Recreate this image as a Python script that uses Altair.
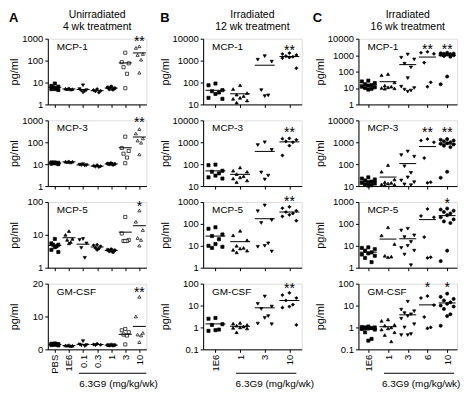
import altair as alt
import pandas as pd

# ---------------- categories ----------------
A_GROUPS = ["PBS", "1E6", "0.1", "0.3", "1", "3", "10"]
B_GROUPS = ["1E6", "1", "3", "10"]
C_GROUPS = ["1E6", "1", "3", "6", "10"]

# ---------------- A: Unirradiated, 4 wk ----------------
A_MCP1 = {"PBS": [9, 7, 6, 5.5, 5, 5, 4.5, 6.5], "1E6": [5.5, 5, 5, 5.2, 4.8],
          "0.1": [7.5, 4.5, 4, 3.5, 4.2, 5], "0.3": [4.5, 4, 3.5, 4.2, 5],
          "1": [5.5, 6, 4.8, 5, 6.5], "3": [230, 85, 75, 50, 25, 5.5],
          "10": [450, 380, 200, 180, 110, 28]}
A_MCP3 = {"PBS": [12, 11.5, 11, 11, 10.5, 10, 11.5, 12], "1E6": [13.5, 13, 12.5, 12, 13],
          "0.1": [9.5, 9, 8.5, 10, 9], "0.3": [8, 9, 7.5, 8.5, 7.8],
          "1": [10, 11, 9.5, 10.5, 10.2], "3": [180, 55, 40, 30, 20, 11],
          "10": [400, 250, 150, 120, 95, 28]}
A_MCP5 = {"PBS": [7.5, 5.5, 5, 4.5, 4.2, 3.5, 3, 5], "1E6": [13, 10, 7.5, 7, 6, 5.5],
          "0.1": [7.5, 7, 5.5, 4, 2], "0.3": [5, 4.5, 4, 3.8, 3.5, 4.8],
          "1": [3.5, 3.2, 3.4, 3, 3.6], "3": [35, 11, 7, 6.5, 6.5, 6.5],
          "10": [55, 25, 14, 8, 7, 4.7]}
A_GMCSF = {"PBS": [1.8, 1.5, 1.4, 1.6, 1.2, 1.7, 1.5, 1.3], "1E6": [1.1, 1.2, 1.0, 1.3, 1.1],
           "0.1": [2.5, 1.2, 1.0, 1.5, 1.3], "0.3": [1.5, 1.7, 1.3, 1.4],
           "1": [1.3, 1.2, 1.4, 1.2, 1.3], "3": [6.2, 5.8, 5.2, 4.5, 4.2, 1.5],
           "10": [16, 10, 5, 4.5, 4.2, 2.2]}

# ---------------- B: Irradiated, 12 wk ----------------
B_MCP1 = {"1E6": [90, 75, 45, 40, 35, 30, 20, 18],
          "1": [75, 50, 33, 28, 24, 20, 18, 15, 12],
          "3": [1600, 1100, 900, 45, 26, 24],
          "10": [2200, 2000, 1800, 1600, 1500, 1400, 1300, 450]}
B_MCP3 = {"1E6": [95, 90, 50, 45, 38, 30, 25, 22],
          "1": [70, 50, 45, 35, 28, 25, 22, 18, 15],
          "3": [1000, 750, 450, 42, 30, 20],
          "10": [1500, 1450, 1300, 1100, 1000, 700, 250]}
B_MCP5 = {"1E6": [70, 60, 33, 28, 20, 12, 10, 9, 8],
          "1": [48, 30, 18, 10, 8, 7.5, 6.5, 6, 5],
          "3": [700, 380, 150, 110, 13, 10, 9, 5.5],
          "10": [600, 520, 400, 350, 300, 260, 220, 140]}
B_GMCSF = {"1E6": [2.7, 2.5, 1.4, 1.3, 0.8, 0.75, 0.7],
           "1": [1.6, 1.5, 1.3, 1.2, 1.1, 1.0, 0.95, 0.9, 0.6],
           "3": [26, 12, 9, 7, 3.3, 2.7, 1.5, 1.4],
           "10": [38, 30, 22, 17, 11, 9, 8, 1.3]}

# ---------------- C: Irradiated, 16 wk ----------------
C_MCP1 = {"1E6": [28, 25, 20, 17, 15, 14, 12, 11, 10, 9, 8],
          "1": [70, 60, 22, 14, 12, 11, 10, 9.5, 9],
          "3": [1100, 700, 550, 300, 180, 40, 12, 10, 8, 7, 6],
          "6": [1600, 1400, 1200, 350, 22, 12],
          "10": [1400, 1300, 1250, 1200, 1150, 1100, 1050, 1000, 900, 800, 50, 17]}
C_MCP3 = {"1E6": [25, 22, 20, 18, 16, 15, 14, 13, 12, 11, 10.5],
          "1": [90, 45, 20, 15, 14, 13, 12, 11.5, 11],
          "3": [380, 260, 220, 80, 40, 25, 18, 15, 12, 11],
          "6": [1400, 1200, 1000, 190, 15, 14],
          "10": [1400, 1300, 1200, 1100, 1000, 900, 850, 800, 700, 600, 45, 24]}
C_MCP5 = {"1E6": [8.5, 8, 7, 6, 5, 4.5, 4, 3.5, 2.8, 1.8],
          "1": [70, 30, 12, 3.5, 3.2, 3.0],
          "3": [60, 50, 30, 25, 15, 10, 8, 6, 4, 1.3],
          "6": [480, 230, 200, 25, 3, 2.8],
          "10": [500, 450, 400, 350, 300, 250, 200, 160, 130, 110, 6, 2]}
C_GMCSF = {"1E6": [1.1, 1.05, 1.0, 1.0, 0.95, 0.9, 0.85, 0.8, 0.6, 0.3, 0.25],
           "1": [2.3, 2.0, 1.3, 1.2, 1.0, 0.9, 0.8, 0.6, 0.45, 0.23],
           "3": [15, 6.5, 5.5, 4.5, 4, 3.3, 2.5, 1.4, 1.0, 0.5, 0.45, 0.45],
           "6": [27, 22, 10.5, 3, 1.0, 0.9],
           "10": [35, 25, 20, 17, 14, 12, 10, 9, 7, 4, 3.3, 1.2]}

# significance marks: (group, text, level)
A_STARS = [[("10", "**", 1000)], [("10", "**", 1000)], [("10", "*", 85)], [("10", "**", 18)]]
B_STARS = [[("10", "**", 3600)], [("10", "**", 3800)], [("10", "**", 1300)], [("10", "**", 80)]]
C_STARS = [[("6", "**", 3200), ("10", "**", 3200)], [("6", "**", 3800), ("10", "**", 3800)],
           [("10", "*", 1100)], [("6", "*", 90), ("10", "*", 90)]]

CYTOKINES = ["MCP-1", "MCP-3", "MCP-5", "GM-CSF"]
COL_TITLES = [["Unirradiated", "4 wk treatment"], ["Irradiated", "12 wk treatment"],
              ["Irradiated", "16 wk treatment"]]
LETTERS = ["A", "B", "C"]
XTITLE = "6.3G9 (mg/kg/wk)"

# ---------------- styles ----------------
W, H = 99, 66
FONT = "Liberation Sans"
SPREAD = [0, -1, 1, -0.5, 0.5]
ONE = pd.DataFrame({"k": [0]})

COLS = [
    dict(groups=A_GROUPS, data=[A_MCP1, A_MCP3, A_MCP5, A_GMCSF], stars=A_STARS,
         shapes=["square", "triangle-up", "triangle-down", "diamond", "circle", "square", "triangle-up"],
         fills=["black"] * 5 + ["white"] * 2,
         ytype=["log", "log", "log", "linear"],
         ydom=[[1, 1000], [1, 1000], [1, 100], [0, 20]],
         yticks=[[1, 10, 100, 1000], [1, 10, 100, 1000], [1, 10, 100], [0, 10, 20]],
         jit=3.5, tickw=13, extent=26, letter_x=-39, bracket=("0.1", "10"), xt_x=71),
    dict(groups=B_GROUPS, data=[B_MCP1, B_MCP3, B_MCP5, B_GMCSF], stars=B_STARS,
         shapes=["square", "triangle-up", "triangle-down", "diamond"],
         fills=["black"] * 4,
         ytype=["log", "log", "log", "log"],
         ydom=[[10, 10000], [10, 10000], [1, 1000], [0.1, 100]],
         yticks=[[10, 100, 1000, 10000], [10, 100, 1000, 10000], [1, 10, 100, 1000], [0.1, 1, 10, 100]],
         jit=7, tickw=20, extent=31, letter_x=-43, bracket=("1", "10"), xt_x=72),
    dict(groups=C_GROUPS, data=[C_MCP1, C_MCP3, C_MCP5, C_GMCSF], stars=C_STARS,
         shapes=["square", "triangle-up", "triangle-down", "diamond", "circle"],
         fills=["black"] * 5,
         ytype=["log", "log", "log", "log"],
         ydom=[[1, 10000], [10, 10000], [1, 1000], [0.1, 100]],
         yticks=[[1, 10, 100, 1000, 10000], [10, 100, 1000, 10000], [1, 10, 100, 1000], [0.1, 1, 10, 100]],
         jit=6.5, tickw=17, extent=31, letter_x=-46, bracket=("1", "10"), xt_x=63),
]


def make_panel(c, ci, r):
    groups = c["groups"]
    values = c["data"][r]
    recs = []
    for g in groups:
        for i, v in enumerate(sorted(values[g], reverse=True)):
            recs.append({"group": g, "value": v, "spread": SPREAD[i % len(SPREAD)]})
    df = pd.DataFrame(recs)
    sdf = pd.DataFrame([{"group": g, "value": v, "txt": t} for g, t, v in c["stars"][r]])
    bottom = r == 3

    xaxis = alt.Axis(title=None, labels=bottom, labelAngle=270, labelFontSize=9.5,
                     labelPadding=2, tickSize=3, grid=False)
    x = alt.X("group:N", scale=alt.Scale(type="point", domain=groups, padding=0.5), axis=xaxis)
    yscale = alt.Scale(type=c["ytype"][r], domain=c["ydom"][r], nice=False)
    yaxis = alt.Axis(title="pg/ml", values=c["yticks"][r], format="~g", tickSize=3,
                     labelFontSize=9.5, labelPadding=2, titleFontSize=11,
                     titleFontWeight="normal", titlePadding=2,
                     minExtent=c["extent"], maxExtent=c["extent"], grid=False)
    y = alt.Y("value:Q", scale=yscale, axis=yaxis)

    pts = alt.Chart(df).mark_point(filled=True, stroke="black", strokeWidth=0.7,
                                   opacity=1, size=10).encode(
        x=x, y=y,
        xOffset=alt.XOffset("spread:Q", scale=alt.Scale(domain=[-1, 1], range=[-c["jit"], c["jit"]])),
        shape=alt.Shape("group:N", scale=alt.Scale(domain=groups, range=c["shapes"]), legend=None),
        fill=alt.Fill("group:N", scale=alt.Scale(domain=groups, range=c["fills"]), legend=None),
    )
    mean = alt.Chart(df).mark_tick(color="black", thickness=1, size=c["tickw"]).encode(
        x=x, y=alt.Y("mean(value):Q", scale=yscale, axis=yaxis))
    stars = alt.Chart(sdf).mark_text(fontSize=14, baseline="middle", dy=3, fill="black").encode(
        x=x, y=y, text="txt:N")
    label = alt.Chart(ONE).mark_text(align="left", baseline="top", fontSize=10,
                                     text=CYTOKINES[r], fill="black").encode(
        x=alt.value(9), y=alt.value(3))
    layers = [pts, mean, stars, label]
    if r == 0:
        layers.append(alt.Chart(ONE).mark_text(align="center", baseline="top", fontSize=10.5,
                                               lineHeight=12, text=COL_TITLES[ci], fill="black").encode(
            x=alt.value(W / 2), y=alt.value(-29)))
        layers.append(alt.Chart(ONE).mark_text(align="left", baseline="top", fontSize=13,
                                               fontWeight="bold", text=LETTERS[ci], fill="black").encode(
            x=alt.value(c["letter_x"]), y=alt.value(-27)))
    if bottom:
        b0, b1 = c["bracket"]
        layers.append(alt.Chart(ONE).mark_rule(color="black", strokeWidth=1.2,
                                               xOffset=-4, x2Offset=7).encode(
            x=alt.datum(b0), x2=alt.datum(b1), y=alt.value(H + 24)))
        layers.append(alt.Chart(ONE).mark_text(align="center", baseline="alphabetic", fontSize=10,
                                               text=XTITLE, fill="black").encode(
            x=alt.value(c["xt_x"]), y=alt.value(H + 38)))
    return alt.layer(*layers).properties(width=W, height=H).resolve_scale(
        shape="independent", fill="independent")


panels = []
for r in range(4):
    for ci, c in enumerate(COLS):
        panels.append(make_panel(c, ci, r))

chart = alt.concat(*panels, columns=3, spacing={"row": 16, "column": 57},
                   bounds="flush").resolve_scale(
    shape="independent", fill="independent", xOffset="independent",
    x="independent", y="independent").properties(padding=0).configure_view(
    strokeWidth=0).configure(font=FONT).configure_axis(
    domainColor="black", tickColor="black", labelColor="black", titleColor="black",
    labelFont=FONT, titleFont=FONT, domainWidth=1, tickWidth=1)

chart.save("out.html", embed_options={"renderer": "svg", "actions": False})
